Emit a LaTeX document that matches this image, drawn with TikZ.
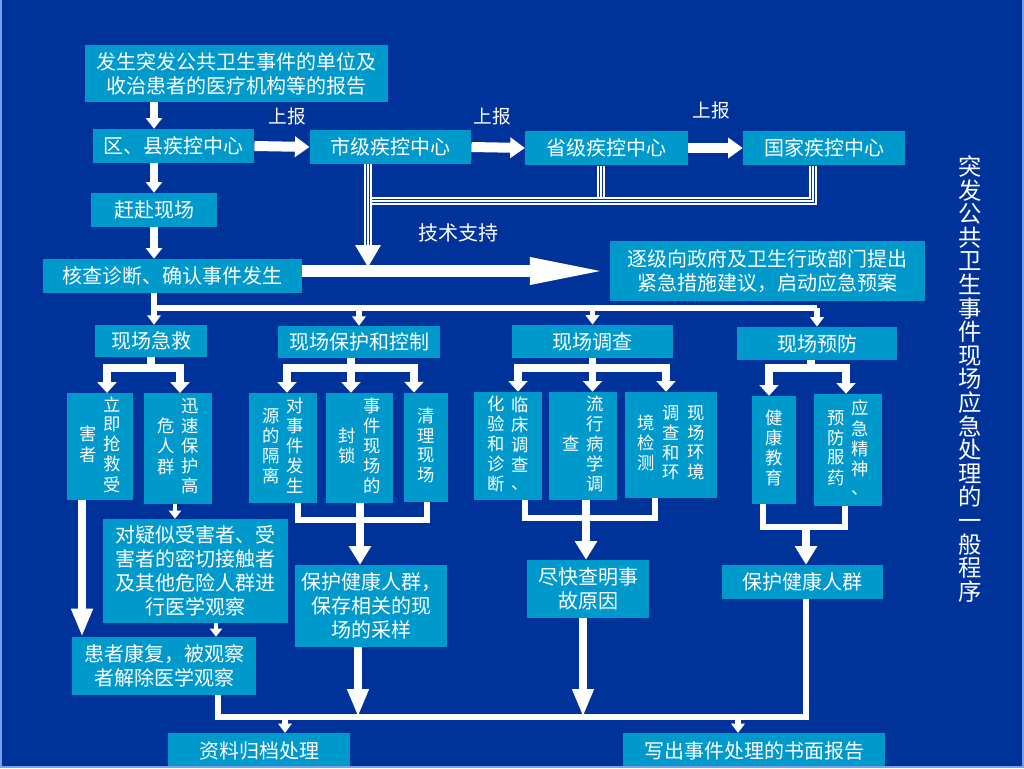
\documentclass[tikz,border=0pt]{standalone}
\usepackage{fontspec}
\setmainfont{Noto Sans CJK SC}
\usetikzlibrary{arrows.meta}

\definecolor{bgc}{RGB}{0,51,153}
\definecolor{boxc}{RGB}{0,153,204}
\definecolor{rimc}{RGB}{120,160,235}

% one column of vertical text
\newcommand{\vcol}[1]{\begin{tabular}[c]{@{}c@{}}#1\end{tabular}}
\newcommand{\vgap}{\hspace{5.5pt}}

\begin{document}
\begin{tikzpicture}[x=0.75pt,y=-0.75pt,
  box/.style={fill=boxc,text=white,inner sep=0pt,align=center,font=\fontsize{15}{18}\selectfont},
  vbox/.style={box,font=\fontsize{13}{14}\selectfont},
  lbl/.style={text=white,font=\fontsize{14}{16}\selectfont},
  ttl/.style={text=white,inner sep=0pt,align=center,font=\fontsize{17.5}{17.7}\selectfont},
  chain/.style={draw=white,line width=6.5pt,-{Triangle[length=8pt,width=12pt]}},
  hchain/.style={draw=white,line width=7.5pt,-{Triangle[length=11pt,width=15pt]}},
  bigarrow/.style={draw=white,line width=9pt,-{Triangle[length=60pt,width=18pt]}},
  tri/.style={draw=white,line width=0.9pt,preaction={draw=white,line width=5.3pt},preaction={draw=bgc,line width=3.3pt}},
  busline/.style={draw=white,line width=5pt},
  drop/.style={draw=white,line width=4pt,-{Triangle[length=7pt,width=10pt]}},
  branch/.style={draw=white,line width=5.5pt,-{Triangle[length=8pt,width=14pt]}},
  joinline/.style={draw=white,line width=5pt},
  stem/.style={draw=white,line width=6pt,-{Triangle[length=14pt,width=16pt]}},
  stemlong/.style={draw=white,line width=6pt,-{Triangle[length=21pt,width=15pt]}},
  small/.style={draw=white,line width=3.5pt,-{Triangle[length=6pt,width=9pt]}}
]
\useasboundingbox (0,0) rectangle (1024,768);
\fill[bgc] (0,0) rectangle (1024,768);

% Reporting chain
\node[box,minimum width=227pt,minimum height=43pt] (rep) at (236.5,73.5) {发生突发公共卫生事件的单位及\\收治患者的医疗机构等的报告};
\node[box,minimum width=121pt,minimum height=25.5pt] (qx) at (173.5,146) {区、县疾控中心};
\node[box,minimum width=121pt,minimum height=25.5pt] (sj) at (390.5,147) {市级疾控中心};
\node[box,minimum width=122pt,minimum height=26pt] (shg) at (606.5,148) {省级疾控中心};
\node[box,minimum width=121.5pt,minimum height=26pt] (gj) at (824,148) {国家疾控中心};
\node[lbl] (sb1) at (287,116) {上报};
\node[lbl] (sb2) at (492,116) {上报};
\node[lbl] (sb3) at (711,110) {上报};
\node[box,minimum width=94.5pt,minimum height=25.5pt] (gf) at (154,210) {赶赴现场};
\node[box,minimum width=194pt,minimum height=25.5pt] (hc) at (172.5,276) {核查诊断、确认事件发生};
\node[box,minimum width=236pt,minimum height=45pt] (zj) at (767.5,271) {逐级向政府及卫生行政部门提出\\紧急措施建议，启动应急预案};
\node[lbl,font=\fontsize{15}{17}\selectfont] (js) at (458,233) {技术支持};

\draw[chain] (rep.south -| gf) -- (qx.north -| gf);
\draw[chain] (qx.south -| gf) -- (gf.north);
\draw[chain] (gf.south) -- (hc.north -| gf);
\draw[hchain] (qx.east) -- (sj.west);
\draw[hchain] (sj.east) -- (shg.west);
\draw[hchain] (shg.east) -- (gj.west);
\draw[bigarrow] (hc.east |- zj.west) -- (zj.west);

% Technical support lines
\coordinate (tsup) at (368,267);
\draw[tri] (shg.south -| 601,0) -- (601,201);
\draw[tri] (sj.south -| tsup) -- ([yshift=16.5pt]tsup);
\draw[tri] (gj.south -| 813,0) -- (813,201) -- (372,201);
\fill[white] (tsup) -- ++(-13,-22) -- ++(26,0) -- cycle;

% Second level
\node[box,minimum width=84pt,minimum height=24pt] (jj) at (151,341) {现场急救};
\node[box,minimum width=121.5pt,minimum height=24pt] (bh) at (359,342) {现场保护和控制};
\node[box,minimum width=121pt,minimum height=25pt] (dc) at (592.5,341.5) {现场调查};
\node[box,minimum width=120pt,minimum height=25pt] (yf) at (817,343.5) {现场预防};

\coordinate (bus) at (0,308);
\draw[drop] (hc.south -| gf) -- (jj.north -| gf);
\draw[busline] (bus -| gf) -- (bus -| yf);
\draw[drop] (bus -| bh) -- (bh.north);
\draw[drop] (bus -| dc) -- (dc.north);
\draw[drop] (bus -| yf) -- (yf.north);

% Vertical text boxes
\node[vbox,minimum width=49.5pt,minimum height=80pt] (v1) at (100,446.5) {\vcol{害\\者}\vgap\vcol{立\\即\\抢\\救\\受}};
\node[vbox,minimum width=51pt,minimum height=83pt] (v2) at (178,448.5) {\vcol{危\\人\\群}\vgap\vcol{迅\\速\\保\\护\\高}};
\node[vbox,minimum width=51pt,minimum height=82.5pt] (v3) at (283,448) {\vcol{源\\的\\隔\\离}\vgap\vcol{对\\事\\件\\发\\生}};
\node[vbox,minimum width=50pt,minimum height=82.5pt] (v4) at (359.5,448) {\vcol{封\\锁}\vgap\vcol{事\\件\\现\\场\\的}};
\node[vbox,minimum width=33pt,minimum height=82pt] (v5) at (426,447.5) {\vcol{清\\理\\现\\场}};
\node[vbox,minimum width=51pt,minimum height=81pt] (v6) at (508,446) {\vcol{化\\验\\和\\诊\\断}\vgap\vcol{临\\床\\调\\查\\、}};
\node[vbox,minimum width=51pt,minimum height=81pt] (v7) at (583,446) {\vcol{查}\vgap\vcol{流\\行\\病\\学\\调}};
\node[vbox,minimum width=69pt,minimum height=79.5pt] (v8) at (671,445) {\vcol{境\\检\\测}\vgap\vcol{调\\查\\和\\环}\vgap\vcol{现\\场\\环\\境}};
\node[vbox,minimum width=33pt,minimum height=81pt] (v9) at (774,450) {\vcol{健\\康\\教\\育}};
\node[vbox,minimum width=51pt,minimum height=84pt] (v10) at (848,450) {\vcol{预\\防\\服\\药}\vgap\vcol{应\\急\\精\\神\\、}};

\coordinate (br) at (0,368);
\draw[branch] (jj.south) -- (jj.south |- br) -| (v1.north -| 107,0);
\draw[branch] (jj.south |- br) -| (v2.north -| 180,0);
\draw[branch] (bh.south -| 351,0) -- (br -| 351,0) -| (v3.north -| 287,0);
\draw[branch] (br -| 351,0) -| (v5.north -| 414,0);
\draw[branch] (bh.south -| 351,0) -- (v4.north -| 351,0);
\draw[branch] (dc.south) -- (dc.south |- br) -| (v6.north -| 518,0);
\draw[branch] (dc.south |- br) -| (v8.north -| 666,0);
\draw[branch] (dc.south) -- (v7.north -| dc);
\draw[branch] (yf.south -| 811,0) -- (br -| 811,0) -| (v9.north -| 769,0);
\draw[branch] (br -| 811,0) -| (v10.north -| 846,0);

% Third level
\node[box,minimum width=139pt,minimum height=78pt] (gc) at (195.5,571) {对疑似受害者、受\\害者的密切接触者\\及其他危险人群进\\行医学观察};
\node[box,minimum width=114pt,minimum height=61.5pt] (bj) at (371,606) {保护健康人群，\\保存相关的现\\场的采样};
\node[box,minimum width=138pt,minimum height=43.5pt] (hz) at (164,666) {患者康复，被观察\\者解除医学观察};
\node[box,minimum width=91.5pt,minimum height=43.5pt] (jk) at (588,589) {尽快查明事\\故原因};
\node[box,minimum width=121pt,minimum height=25.5pt] (bk) at (802.5,582) {保护健康人群};
\node[box,minimum width=136.5pt,minimum height=26pt] (zl) at (259,750.5) {资料归档处理};
\node[box,minimum width=196.5pt,minimum height=26pt] (xc) at (754,750.5) {写出事件处理的书面报告};

\draw[stemlong] (v1.south -| 82,0) -- (hz.north -| 82,0);
\draw[small] (v2.south -| 175,0) -- (gc.north -| 175,0);
\draw[small] (gc.south -| 216,0) -- (hz.north -| 216,0);

\draw[joinline] (v3.south -| 298,0) -- (298,520) -- (427,520) -- (v5.south -| 427,0);
\draw[stem] (v4.south -| 360,0) -- (bj.north -| 360,0);
\draw[joinline] (v6.south -| 525,0) -- (525,518) -- (655,518) -- (v8.south -| 655,0);
\draw[stem] (v7.south -| 586,0) -- (jk.north -| 586,0);
\draw[joinline] (v9.south -| 763,0) -- (763,527) -- (845,527) -- (v10.south -| 845,0);
\draw[stem] (806,527) -- (bk.north -| 806,0);

% Collecting line
\coordinate (col) at (0,717);
\draw[joinline] (hz.south -| 218,0) -- (col -| 218,0) -- (col -| 806,0) -- (bk.south -| 806,0);
\draw[stemlong] (bj.south -| 358,0) -- (col -| 358,0);
\draw[stemlong] (jk.south -| 583,0) -- (col -| 583,0);
\draw[drop] (col -| 285,0) -- (zl.north -| 285,0);
\draw[drop] (col -| 738,0) -- (xc.north -| 738,0);

% Title
\node[ttl] (title) at (970,379) {突\\发\\公\\共\\卫\\生\\事\\件\\现\\场\\应\\急\\处\\理\\的\\一\\般\\程\\序};

\draw[rimc,line width=1.5pt] (1,0) -- (1,767) -- (1023,767) -- (1023,0);
\end{tikzpicture}
\end{document}
